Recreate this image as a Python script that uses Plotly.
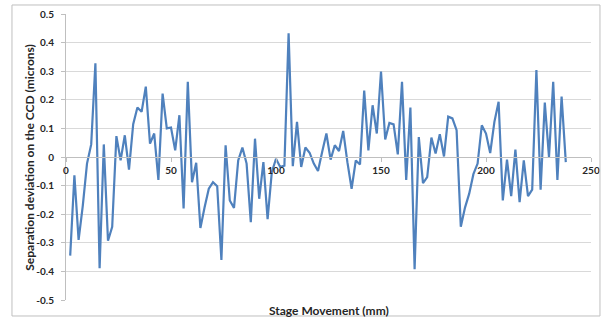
import plotly.graph_objects as go

stage_mm = list(range(2, 240, 2))
deviation = [
    -0.345, -0.064, -0.29, -0.17, -0.023, 0.044, 0.328, -0.389, 0.044, -0.293,
    -0.244, 0.073, -0.012, 0.076, -0.044, 0.115, 0.173, 0.158, 0.246, 0.047,
    0.082, -0.08, 0.222, 0.1, 0.103, 0.023, 0.146, -0.18, 0.263, -0.088,
    -0.02, -0.248, -0.176, -0.111, -0.088, -0.102, -0.36, 0.041, -0.152, -0.178,
    -0.012, 0.033, -0.023, -0.228, 0.064, -0.146, -0.018, -0.217, -0.053, -0.006,
    -0.035, -0.03, 0.433, -0.032, 0.123, -0.035, 0.033, 0.015, -0.023, -0.049,
    0.018, 0.082, -0.009, 0.041, 0.021, 0.091, -0.018, -0.111, -0.012, -0.026,
    0.232, 0.023, 0.181, 0.082, 0.299, 0.061, 0.119, 0.114, 0.009, 0.263,
    -0.08, 0.173, -0.392, 0.07, -0.091, -0.07, 0.068, 0.012, 0.08, 0.002,
    0.141, 0.135, 0.094, -0.244, -0.177, -0.128, -0.06, -0.023, 0.111, 0.082,
    0.014, 0.123, 0.193, -0.152, -0.009, -0.137, 0.026, -0.158, -0.012, -0.137,
    -0.114, 0.304, -0.114, 0.19, 0.0, 0.263, -0.08, 0.211, -0.018,
]
x_ticks = [0, 50, 100, 150, 200, 250]
y_ticks = [0.5, 0.4, 0.3, 0.2, 0.1, 0, -0.1, -0.2, -0.3, -0.4, -0.5]
y_tick_text = ["0.5", "0.4", "0.3", "0.2", "0.1", "0", "-0.1", "-0.2", "-0.3", "-0.4", "-0.5"]
x_title = "Stage Movement (mm)"
y_title = "Separation deviation on the CCD (microns)"

FONT = "Lato"

fig = go.Figure()
fig.add_trace(go.Scatter(
    x=stage_mm, y=deviation, mode="lines",
    line=dict(color="#4F81BD", width=2.2),
    showlegend=False, hoverinfo="skip",
))

fig.update_layout(
    width=604, height=321,
    margin=dict(l=66, r=13, t=14, b=21, autoexpand=False),
    paper_bgcolor="white", plot_bgcolor="white",
    font=dict(family=FONT, color="#262626"),
    xaxis=dict(
        range=[0, 250], tickvals=x_ticks, ticktext=[str(v) for v in x_ticks],
        anchor="free", position=0.5, automargin=False,
        showgrid=False, zeroline=False,
        showline=True, linecolor="#bfbfbf", linewidth=1,
        ticks="outside", ticklen=4, tickcolor="#bfbfbf",
        tickfont=dict(family=FONT, size=10, color="#262626", weight="bold"),
    ),
    yaxis=dict(
        range=[-0.5, 0.5], tickvals=y_ticks, ticktext=y_tick_text,
        automargin=False,
        showgrid=True, gridcolor="#d9d9d9", gridwidth=1,
        zeroline=False,
        showline=True, linecolor="#bfbfbf", linewidth=1,
        ticks="outside", ticklen=4, tickcolor="#bfbfbf",
        tickfont=dict(family=FONT, size=10, color="#262626", weight="bold"),
        ticklabelstandoff=5,
    ),
    annotations=[
        dict(text=x_title, xref="paper", yref="paper", x=0.5, y=-0.003,
             xanchor="center", yanchor="top", showarrow=False,
             font=dict(family=FONT, size=12, color="#262626", weight="bold")),
        dict(text=y_title, xref="paper", yref="paper", x=-0.071, y=0.5,
             xanchor="center", yanchor="middle", textangle=-90, showarrow=False,
             font=dict(family=FONT, size=12, color="#262626", weight="bold")),
    ],
    shapes=[
        dict(type="rect", xref="paper", yref="paper",
             x0=-0.1029, x1=1.0171, y0=-0.0559, y1=1.0315,
             line=dict(color="#bfbfbf", width=1), fillcolor="rgba(0,0,0,0)",
             layer="above"),
    ],
)

fig.write_html(
    "out.html",
    config={"displayModeBar": False},
    post_script="document.body.style.margin='0';document.body.style.padding='0';",
)
